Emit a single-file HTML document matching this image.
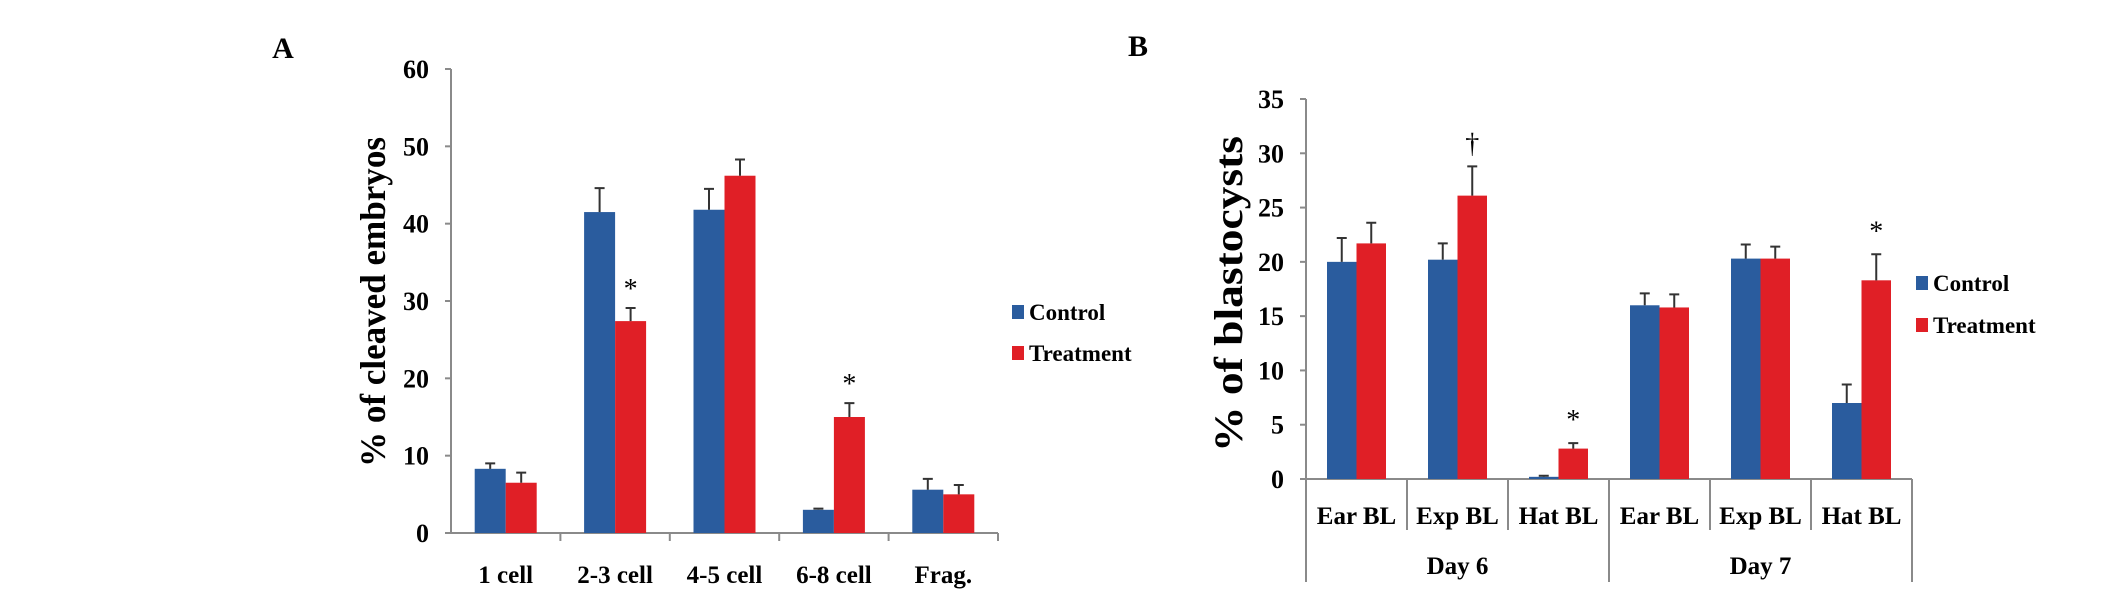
<!DOCTYPE html>
<html><head><meta charset="utf-8"><style>
html,body{margin:0;padding:0;background:#fff;}
svg{display:block;font-family:"Liberation Serif",serif;font-weight:bold;}
</style></head><body>
<svg id="chart" width="2126" height="601" viewBox="0 0 2126 601" xmlns="http://www.w3.org/2000/svg">
<text x="283" y="58" font-size="30" text-anchor="middle">A</text>
<text x="1138" y="56" font-size="30" text-anchor="middle">B</text>
<g id="pa"></g>
<g id="pb"></g>
</svg>
<script>
const aCategories = ["1 cell","2-3 cell","4-5 cell","6-8 cell","Frag."];
const aControl = [8.3, 41.5, 41.8, 3.0, 5.6];
const aControlErr = [0.7, 3.1, 2.7, 0.15, 1.4];
const aTreatment = [6.5, 27.4, 46.2, 15.0, 5.0];
const aTreatmentErr = [1.3, 1.7, 2.1, 1.8, 1.2];
const aTicks = [0,10,20,30,40,50,60];
const aMarks = ["", "*", "", "*", ""];

const bCategories = ["Ear BL","Exp BL","Hat BL","Ear BL","Exp BL","Hat BL"];
const bGroups = ["Day 6","Day 7"];
const bControl = [20.0, 20.2, 0.2, 16.0, 20.3, 7.0];
const bControlErr = [2.2, 1.5, 0.1, 1.1, 1.3, 1.7];
const bTreatment = [21.7, 26.1, 2.8, 15.8, 20.3, 18.3];
const bTreatmentErr = [1.9, 2.7, 0.5, 1.2, 1.1, 2.4];
const bTicks = [0,5,10,15,20,25,30,35];
const bMarks = ["", "\u2020", "*", "", "", "*"];

const NS = "http://www.w3.org/2000/svg";
const BLUE = "#2a5c9e", RED = "#e01f26", AX = "#8a8a8a";
function mk(parent, tag, attrs, txt){
  const e = document.createElementNS(NS, tag);
  for (const k in attrs) e.setAttribute(k, attrs[k]);
  if (txt !== undefined) e.textContent = txt;
  parent.appendChild(e);
  return e;
}

function drawPanel(g, cfg){
  const y = v => cfg.y0 - (v - 0) / cfg.ymax * (cfg.y0 - cfg.ytop);
  const n = cfg.cats.length;
  const cw = (cfg.x1 - cfg.x0) / n;
  let e = mk(g, "line", {x1:cfg.x0, y1:cfg.ytop, x2:cfg.x0, y2:cfg.axisBottom, stroke:AX, "stroke-width":2});
  
  
  cfg.ticks.forEach(t => {
    const ty = y(t);
    let tk = mk(g, "line", {x1:cfg.x0-6, y1:ty, x2:cfg.x0, y2:ty, stroke:AX, "stroke-width":2});
    
    
    let lb = mk(g, "text", {x:cfg.x0-22, y:ty+9, "font-size":26, "text-anchor":"end"}, String(t));
    
    
  });
  e = mk(g, "line", {x1:cfg.x0, y1:cfg.y0, x2:cfg.x1, y2:cfg.y0, stroke:AX, "stroke-width":2});
  
  
  e = mk(g, "text", {x:0, y:0, "font-size":cfg.titleSize, "text-anchor":"middle", textLength:cfg.titleLen, lengthAdjust:"spacingAndGlyphs", transform:`translate(${cfg.titleX},${cfg.titleY}) rotate(-90)`}, cfg.title);
  
  
  const bw = cfg.barW;
  for (let i = 0; i < n; i++){
    const cx = cfg.x0 + cw * (i + 0.5);
    const sx = cfg.x0 + cw * (i + 1);
    let s = mk(g, "line", {x1:sx, y1:cfg.y0, x2:sx, y2:cfg.sepBottom(i), stroke:AX, "stroke-width":2});
    
    
    const series = [[cfg.ctrl, cfg.ctrlErr, BLUE, cx - bw, 'control'], [cfg.trt, cfg.trtErr, RED, cx, 'treatment']];
    series.forEach(([vals, errs, col, bx, nm]) => {
      const top = y(vals[i]);
      let r = mk(g, "rect", {x:bx, y:top, width:bw, height:cfg.y0 - top, fill:col});
      
      
      const et = y(vals[i] + errs[i]);
      const ex = bx + bw / 2;
      let l = mk(g, "path", {d:`M${ex},${top} V${et} M${ex-5},${et} H${ex+5}`, stroke:"#333", "stroke-width":2, fill:"none"});
      
      
    });
    if (cfg.marks[i]){
      const mv = cfg.trt[i] + cfg.trtErr[i];
      let m = mk(g, "text", {x:cx + bw/2, y:y(mv) - cfg.markGap, "font-size":28, "font-weight":"normal", "text-anchor":"middle"}, cfg.marks[i]);
      
      
    }
    let cl = mk(g, "text", {x:cx, y:cfg.catLabelY, "font-size":25, "text-anchor":"middle"}, cfg.cats[i]);
    
    
  }
  [["Control", BLUE, cfg.legY[0]], ["Treatment", RED, cfg.legY[1]]].forEach(([t, c, ly]) => {
    let sq = mk(g, "rect", {x:cfg.legX, y:ly - 7, width:12, height:14, fill:c});
    
    
    let lt = mk(g, "text", {x:cfg.legX + 17, y:ly + 8, "font-size":23}, t);
    
    
  });
  return {y, cw};
}

drawPanel(document.getElementById('pa'), {
  x0:451, x1:998, y0:533, ytop:69, ymax:60, axisBottom:533,
  cats:aCategories, ctrl:aControl, ctrlErr:aControlErr, trt:aTreatment, trtErr:aTreatmentErr,
  ticks:aTicks, marks:aMarks, barW:31, markGap:10,
  title:"% of cleaved embryos", titleSize:36, titleLen:330, titleX:385, titleY:302,
  sepBottom:()=>541, catLabelY:583, legX:1012, legY:[312,353]
});

const pb = document.getElementById('pb');
const rb = drawPanel(pb, {
  x0:1306, x1:1912, y0:479, ytop:99, ymax:35, axisBottom:582,
  cats:bCategories, ctrl:bControl, ctrlErr:bControlErr, trt:bTreatment, trtErr:bTreatmentErr,
  ticks:bTicks, marks:bMarks, barW:29.5, markGap:14,
  title:"% of blastocysts", titleSize:40, titleLen:316, titleX:1242, titleY:294,
  sepBottom:(i)=> (i===2||i===5) ? 582 : 530, catLabelY:524, legX:1916, legY:[283,325]
});
bGroups.forEach((gname, gi) => {
  const gx = 1306 + rb.cw * (gi * 3 + 1.5);
  let t = mk(pb, "text", {x:gx, y:574, "font-size":25, "text-anchor":"middle"}, gname);
  
  
});
</script>
</body></html>
